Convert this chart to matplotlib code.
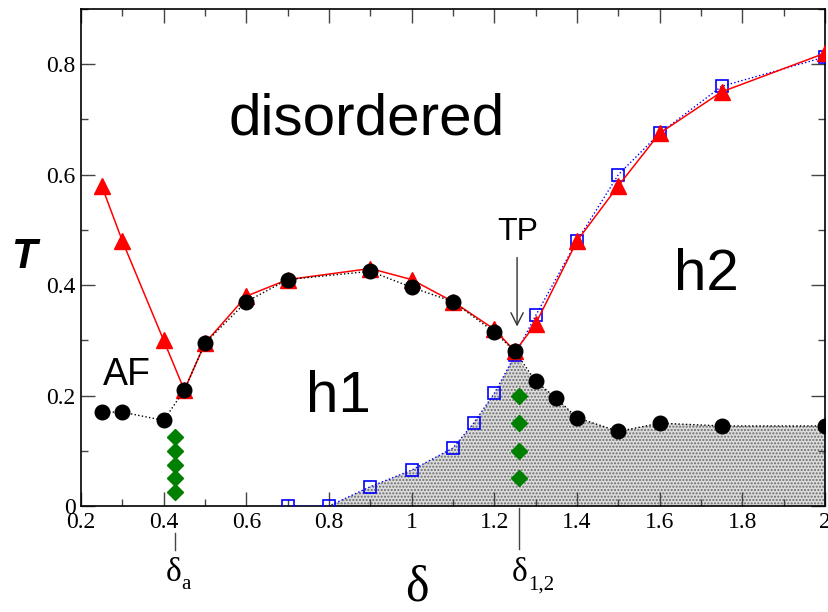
import numpy as np
import matplotlib
matplotlib.use('Agg')
import matplotlib.pyplot as plt
from matplotlib.ticker import MultipleLocator, FormatStrFormatter

# red triangles (solid line)
tri_x = [0.25, 0.3, 0.4, 0.45, 0.5, 0.6, 0.7, 0.9, 1.0, 1.1, 1.2, 1.25, 1.3, 1.4, 1.5, 1.6, 1.75, 2.0]
tri_y = [0.58, 0.48, 0.30, 0.21, 0.295, 0.38, 0.41, 0.43, 0.41, 0.37, 0.32, 0.28, 0.33, 0.48, 0.58, 0.675, 0.75, 0.82]

# black circles (dotted line)
circ_x = [0.25, 0.3, 0.4, 0.45, 0.5, 0.6, 0.7, 0.9, 1.0, 1.1, 1.2, 1.25, 1.3, 1.35, 1.4, 1.5, 1.6, 1.75, 2.0]
circ_y = [0.17, 0.17, 0.155, 0.21, 0.295, 0.37, 0.41, 0.425, 0.396, 0.37, 0.315, 0.28, 0.226, 0.195, 0.16, 0.135, 0.15, 0.145, 0.145]

# blue open squares (dotted line)
sq_x = [0.7, 0.8, 0.9, 1.0, 1.1, 1.15, 1.2, 1.25, 1.3, 1.4, 1.5, 1.6, 1.75, 2.0]
sq_y = [0.0, 0.0, 0.035, 0.065, 0.105, 0.15, 0.204, 0.273, 0.345, 0.48, 0.60, 0.675, 0.76, 0.813]

# green diamonds
dia_a_x = [0.428] * 5
dia_a_y = [0.125, 0.1, 0.075, 0.05, 0.025]
dia_b_x = [1.26] * 4
dia_b_y = [0.2, 0.15, 0.1, 0.05]

sans = 'Liberation Sans'
serif = 'Liberation Serif'
plt.rcParams['font.family'] = serif
plt.rcParams['hatch.linewidth'] = 1.0

fig = plt.figure(figsize=(8.29, 6.12), dpi=100)
ax = fig.add_axes([0.0977, 0.1732, 0.8975, 0.8121])

# shaded region: under squares up to TP, then under circles
shade_x = sq_x[:8] + circ_x[12:] + [2.0, 0.7]
shade_y = sq_y[:8] + circ_y[12:] + [0.0, 0.0]
ax.fill(shade_x, shade_y, facecolor='#dcdcdc', edgecolor='#6a6a6a', hatch='.....', linewidth=0, zorder=1)

ax.plot(sq_x, sq_y, ls=':', color='blue', lw=1.0, marker='s', ms=8,
        mfc='none', mec='blue', mew=1.2, zorder=3)
ax.plot(tri_x, tri_y, ls='-', color='red', lw=1.1, marker='^', ms=11,
        mfc='red', mec='red', zorder=4)
ax.plot(circ_x, circ_y, ls=':', color='black', lw=1.0, marker='o', ms=10.5,
        mfc='black', mec='black', zorder=5)
ax.plot(dia_a_x, dia_a_y, ls='none', marker='D', ms=8.5, color='green', zorder=5)
ax.plot(dia_b_x, dia_b_y, ls='none', marker='D', ms=8.5, color='green', zorder=5)

ax.set_xlim(0.2, 2.0)
ax.set_ylim(0, 0.9)
ax.xaxis.set_major_locator(MultipleLocator(0.2))
ax.xaxis.set_minor_locator(MultipleLocator(0.1))
ax.yaxis.set_major_locator(MultipleLocator(0.2))
ax.yaxis.set_minor_locator(MultipleLocator(0.1))
ax.xaxis.set_major_formatter(FormatStrFormatter('%g'))
ax.yaxis.set_major_formatter(FormatStrFormatter('%g'))
ax.tick_params(which='both', direction='in', top=True, right=True, color='#444444', width=1)
ax.tick_params(which='major', length=10, labelsize=17, pad=4)
ax.tick_params(which='minor', length=5)
for sp in ax.spines.values():
    sp.set_linewidth(1.2)

# region labels
ax.text(0.892, 0.70, 'disordered', family=sans, fontsize=42, ha='center', va='center')
ax.text(0.311, 0.237, 'AF', family=sans, fontsize=27, ha='center', va='center')
ax.text(0.822, 0.197, 'h1', family=sans, fontsize=42, ha='center', va='center')
ax.text(1.712, 0.418, 'h2', family=sans, fontsize=42, ha='center', va='center')
ax.text(1.257, 0.496, 'TP', family=sans, fontsize=23, ha='center', va='center')
ax.annotate('', xy=(1.255, 0.32), xytext=(1.255, 0.455),
            arrowprops=dict(arrowstyle='->', color='#333333', lw=1.0, mutation_scale=22))

# markers below axis
ax.plot([0.428, 0.428], [-0.049, -0.08], color='#444444', lw=1.0, clip_on=False)
ax.plot([1.26, 1.26], [-0.003, -0.078], color='#444444', lw=1.0, clip_on=False)
ax.text(0.423, -0.121, 'δ', fontsize=24, ha='center', va='center')
ax.text(0.442, -0.143, 'a', fontsize=15, ha='left', va='center')
ax.text(1.262, -0.121, 'δ', fontsize=24, ha='center', va='center')
ax.text(1.281, -0.143, '1,2', fontsize=15, ha='left', va='center')

ax.text(0.452, -0.165, 'δ', fontsize=36, ha='center', va='center', transform=ax.transAxes)
ax.text(-0.077, 0.5, 'T', family=sans, fontsize=30, fontweight='bold', style='italic',
        ha='center', va='center', transform=ax.transAxes)

fig.savefig('out.png', dpi=100)
